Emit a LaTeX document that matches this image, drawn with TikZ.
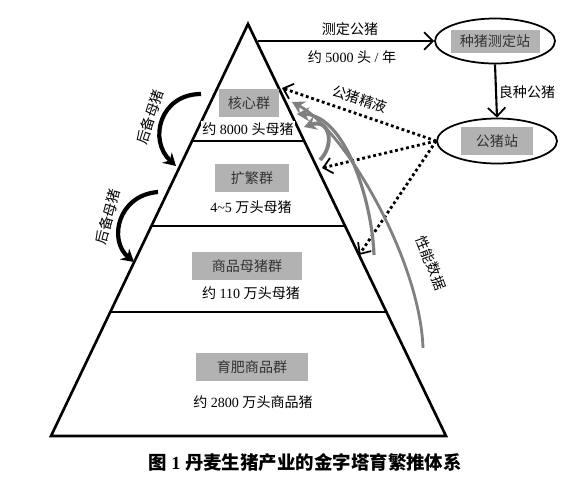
\documentclass[tikz,border=0pt]{standalone}
\usepackage{fontspec}
\setmainfont{Liberation Serif}
\newfontfamily\cjk{Noto Sans CJK SC}
\usetikzlibrary{arrows.meta,shapes.geometric}
\newcommand\zh[1]{{\cjk #1}}

\tikzset{
  grpbox/.style={fill=black!30, text=black!80, minimum height=0.56cm, inner sep=1pt, font=\fontsize{8}{9}\selectfont},
  grptext/.style={fill=white, inner sep=1pt, font=\fontsize{8}{9}\selectfont},
  station/.style={ellipse, draw, line width=1pt, minimum width=2.4cm, minimum height=0.9cm},
  lab/.style={font=\fontsize{8}{9}\selectfont, inner sep=1pt},
  semen/.style={line width=1.6pt, dash pattern=on 1.6pt off 1.6pt, -{Straight Barb[length=5pt,width=9pt,line width=1pt]}},
  backsow/.style={line width=2.4pt, -{Stealth[length=7pt,width=8pt]}},
  perf/.style={draw=black!50, line width=2.2pt, -{Stealth[length=7pt,width=8pt]}},
}

\begin{document}
\begin{tikzpicture}[x=0.02cm,y=-0.02cm]
\useasboundingbox (0,0) rectangle (584,481);

% pyramid
\draw[line width=1.5pt, line join=miter] (248,24) -- (446,436) -- (51,436) -- cycle;
\draw[line width=1.5pt] (192,141) -- (304,141);
\draw[line width=1.5pt] (152,226) -- (345,226);
\draw[line width=1.5pt] (111,312) -- (386,312);

% groups
\node[grpbox, minimum width=1.2cm] (core) at (249,103) {\zh{核心群}};
\node[grptext] (coren) at (248,129) {\zh{约} 8000 \zh{头母猪}};
\node[grpbox, minimum width=1.48cm] (expand) at (252,178) {\zh{扩繁群}};
\node[grptext] (expandn) at (251,207) {4\textasciitilde5 \zh{万头母猪}};
\node[grpbox, minimum width=2.22cm] (sow) at (247,266) {\zh{商品母猪群}};
\node[grptext] (sown) at (251,293) {\zh{约} 110 \zh{万头母猪}};
\node[grpbox, minimum width=2.24cm] (fat) at (252,367) {\zh{育肥商品群}};
\node[grptext] (fatn) at (253,402) {\zh{约} 2800 \zh{万头商品猪}};

% stations
\node[station] (test) at (495,41) {};
\node[grpbox, minimum width=1.78cm, minimum height=0.46cm] (testl) at (495,41) {\zh{种猪测定站}};
\node[station] (boar) at (497,141) {};
\node[grpbox, minimum width=1.44cm] (boarl) at (497,141) {\zh{公猪站}};

\coordinate (apexR) at (258,41);
\draw[line width=1.2pt, -{Straight Barb[length=5pt,width=10pt,line width=1pt]}] (apexR) -- (test.west);
\node[lab] (testtop) at (350,29) {\zh{测定公猪}};
\node[lab] (testbot) at (352,57) {\zh{约} 5000 \zh{头} / \zh{年}};
\draw[line width=1.2pt, -{Straight Barb[length=5pt,width=10pt,line width=1pt]}] (test.south) -- (boar.north);
\node[lab] (good) at (527,92) {\zh{良种公猪}};

% boar semen
\coordinate (e1) at (282,88);
\coordinate (e2) at (322,168);
\coordinate (e3) at (359,255);
\draw[semen] (boar.west) -- (e1);
\draw[semen] (boar.west) -- (e2);
\draw[semen] (boar.west) -- (e3);
\node[lab, rotate=-18] (semenl) at (360,99) {\zh{公猪精液}};

% reserve sows
\draw[backsow] (201,94) .. controls (160,94) and (148,140) .. (176,166);
\node[lab, rotate=72] (res1) at (150,117) {\zh{后备母猪}};
\draw[backsow] (158,192) .. controls (118,195) and (108,240) .. (134,262);
\node[lab, rotate=75] (res2) at (108,217) {\zh{后备母猪}};

% performance data
\draw[perf] (320,160) .. controls (335,145) and (330,118) .. (304,127);
\draw[perf, line width=1.8pt] (374,255) .. controls (372,200) and (345,115) .. (297,114);
\draw[perf, line width=1.6pt] (423,348) .. controls (420,260) and (345,130) .. (292,102);
\node[lab, rotate=-69] (perfl) at (431,263) {\zh{性能数据}};

% caption
\node[font=\fontsize{10.5}{12}\selectfont\bfseries] (cap) at (305,462) {\zh{图} 1 \zh{丹麦生猪产业的金字塔育繁推体系}};
\end{tikzpicture}
\end{document}
